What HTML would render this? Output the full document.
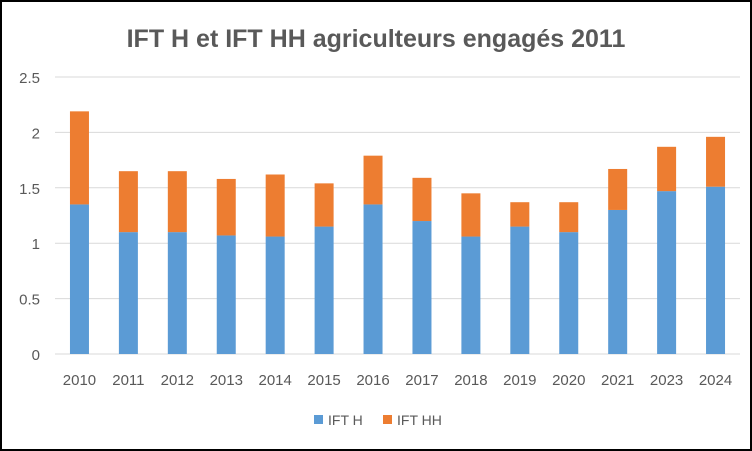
<!DOCTYPE html>
<html><head><meta charset="utf-8"><style>
html,body{margin:0;padding:0;background:#fff}
svg{display:block;font-family:"Liberation Sans",Calibri,sans-serif}
</style></head><body>
<svg width="752" height="451" viewBox="0 0 752 451">
<rect x="1" y="1" width="750" height="449" fill="#fff" stroke="#000" stroke-width="2"/>
<text x="376" y="47" text-anchor="middle" font-size="25" font-weight="bold" fill="#595959">IFT H et IFT HH agriculteurs engagés 2011</text>
<g id="grid"></g><g id="bars"></g><g id="xlab"></g>
<g>
<rect x="314" y="415" width="9" height="9" fill="#5b9bd5"/>
<text x="328" y="425" font-size="14" fill="#595959">IFT H</text>
<rect x="383" y="415" width="9" height="9" fill="#ed7d31"/>
<text x="397" y="425" font-size="14" fill="#595959">IFT HH</text>
</g>
</svg>
<script>
const categories=["2010","2011","2012","2013","2014","2015","2016","2017","2018","2019","2020","2021","2023","2024"];
const iftH=[1.35,1.10,1.10,1.07,1.06,1.15,1.35,1.20,1.06,1.15,1.10,1.30,1.47,1.51];
const iftHH=[0.84,0.55,0.55,0.51,0.56,0.39,0.44,0.39,0.39,0.22,0.27,0.37,0.40,0.45];
const yTicks=[0,0.5,1,1.5,2,2.5];
const NS="http://www.w3.org/2000/svg";
const x0=55,x1=740,yBase=354,yTop=77,yMax=2.5;
const band=(x1-x0)/categories.length,bw=19;
const y=v=>yBase-(v/yMax)*(yBase-yTop);
const xc=i=>x0+band*(i+0.5);
function mk(t,a,p){const e=document.createElementNS(NS,t);for(const k in a)e.setAttribute(k,a[k]);p.appendChild(e);return e;}
const g=document.getElementById('grid'),b=document.getElementById('bars'),xl=document.getElementById('xlab');
yTicks.forEach(v=>{
 const l=mk('line',{x1:x0,x2:x1,y1:y(v),y2:y(v),stroke:'#d9d9d9','stroke-width':1},g);
 
 
 const t=mk('text',{x:40,y:y(v)+6,'text-anchor':'end','font-size':15,fill:'#595959'},g);
 t.textContent=String(v);
 
 
});
categories.forEach((c,i)=>{
 const h=mk('rect',{x:xc(i)-bw/2,y:y(iftH[i]),width:bw,height:y(0)-y(iftH[i]),fill:'#5b9bd5'},b);
 
 
 const tot=iftH[i]+iftHH[i];
 const o=mk('rect',{x:xc(i)-bw/2,y:y(tot),width:bw,height:y(iftH[i])-y(tot),fill:'#ed7d31'},b);
 
 
 const t=mk('text',{x:xc(i),y:385,'text-anchor':'middle','font-size':15,fill:'#595959'},xl);
 t.textContent=c;
 
 
});
</script>
</body></html>
